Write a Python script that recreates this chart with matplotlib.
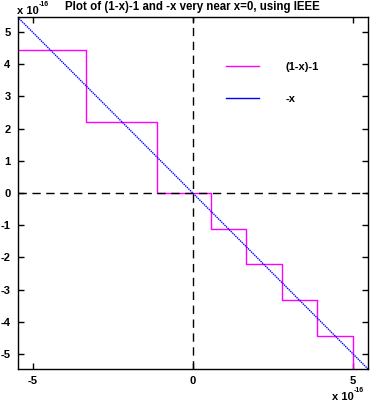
import matplotlib
matplotlib.use('Agg')
import matplotlib.pyplot as plt
from matplotlib.ticker import FuncFormatter

# --- data (units of 1e-16) ---
SCALE = 1e-16
# step breakpoints of (1-x)-1 and the level between each pair
step_edges = [-5.47, -3.33, -1.11, 0.555, 1.665, 2.775, 3.885, 4.995, 5.47]
step_levels = [4.44, 2.22, 0.0, -1.11, -2.22, -3.33, -4.44, -5.55]
# -x line endpoints
line_x = [-5.47, 5.47]
line_y = [5.47, -5.47]
ticks = [-5, -4, -3, -2, -1, 0, 1, 2, 3, 4, 5]

font = ['Liberation Sans', 'DejaVu Sans']
plt.rcParams['font.family'] = font
plt.rcParams['font.weight'] = 'bold'

fig = plt.figure(figsize=(3.70, 4.03), dpi=100)
ax = fig.add_axes([17.5 / 370, 1 - 369 / 403, 350.5 / 370, 352 / 403])

# step curve built from edges/levels
sx, sy = [], []
for i, lv in enumerate(step_levels):
    sx += [step_edges[i] * SCALE, step_edges[i + 1] * SCALE]
    sy += [lv * SCALE, lv * SCALE]
ax.plot(sx, sy, color='#ff00ff', lw=1.0, label='(1-x)-1')
ax.plot([v * SCALE for v in line_x], [v * SCALE for v in line_y],
        color='#0000ff', lw=1.0, ls=(0, (1, 0.6)))
# legend handle for -x is drawn solid
ax.plot([], [], color='#0000ff', lw=1.0, label='-x')

ax.axhline(0, color='black', lw=1.0, ls=(0, (6, 4)))
ax.axvline(0, color='black', lw=1.0, ls=(0, (6, 4)))

ax.set_xlim(-5.47 * SCALE, 5.47 * SCALE)
ax.set_ylim(-5.47 * SCALE, 5.47 * SCALE)
ax.set_xticks([t * SCALE for t in ticks[::5]])
ax.set_yticks([t * SCALE for t in ticks])
fmt = FuncFormatter(lambda v, p: '%d' % round(v / SCALE))
ax.xaxis.set_major_formatter(fmt)
ax.yaxis.set_major_formatter(fmt)
ax.tick_params(direction='in', length=4, width=1, top=True, right=True,
               labelsize=8, pad=5)
for lab in ax.get_xticklabels() + ax.get_yticklabels():
    lab.set_fontweight('bold')
for s in ax.spines.values():
    s.set_linewidth(1)

leg = ax.legend(loc='upper left', bbox_to_anchor=(0.565, 0.90), frameon=False,
                fontsize=8, handlelength=3.0, handletextpad=2.4,
                labelspacing=1.95)
for t in leg.get_texts():
    t.set_fontweight('bold')

fig.text(65 / 370, 1 - 7 / 403, 'Plot of (1-x)-1 and -x very near x=0, using IEEE',
         fontsize=8.3, fontweight='bold', va='center', ha='left')
# exponent labels
fig.text(17 / 370, 1 - 11 / 403, 'x 10', fontsize=8, fontweight='bold', va='center')
fig.text(39 / 370, 1 - 4 / 403, '-16', fontsize=5, fontweight='bold', va='center')
fig.text(332 / 370, 1 - 397 / 403, 'x 10', fontsize=8, fontweight='bold', va='center')
fig.text(354 / 370, 1 - 390 / 403, '-16', fontsize=5, fontweight='bold', va='center')

fig.savefig('out.png', dpi=100)
